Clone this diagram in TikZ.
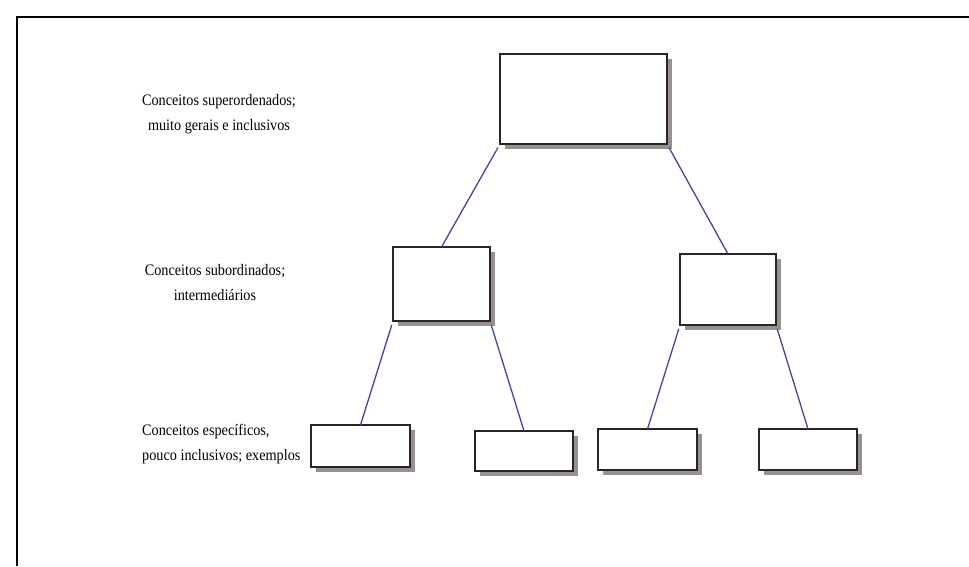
\documentclass[tikz,border=0pt]{standalone}
\usepackage{fontspec}
\newfontfamily\legfont[FakeStretch=0.89]{Liberation Serif}
\usepackage{xcolor}
\definecolor{sombra}{HTML}{9A9090}
\definecolor{ligacao}{HTML}{4444A0}
\usetikzlibrary{shadows}

\begin{document}
\begin{tikzpicture}[x=1pt,y=-1pt,
  caixa/.style={rectangle,draw=black!85,line width=1.4pt,fill=white,inner sep=0pt,outer sep=0pt,
    general shadow={fill=sombra,shadow xshift=5pt,shadow yshift=-5pt}},
  lig/.style={draw=ligacao,line width=1.3pt,shorten <=4pt},
  leg/.style={font={\legfont\fontsize{16}{25}\selectfont},inner sep=0pt}]
\useasboundingbox (0,0) rectangle (969,566);
\draw[line width=2pt] (17,566) -- (17,17) -- (969,17);
% niveis
\node[leg,align=center] (L1) at (219,114) {Conceitos superordenados;\\muito gerais e inclusivos};
\node[leg,align=center] (L2) at (215,283) {Conceitos subordinados;\\intermediários};
\node[leg,align=left,anchor=west] (L3) at (142,444) {Conceitos específicos,\\pouco inclusivos; exemplos};
% caixas
\node[caixa,minimum width=167pt,minimum height=90pt] (T) at (583.5,99) {};
\node[caixa,minimum width=97pt,minimum height=74pt] (ML) at (441.5,284) {};
\node[caixa,minimum width=96pt,minimum height=71pt] (MR) at (728,289.5) {};
\node[caixa,minimum width=99pt,minimum height=42pt] (B1) at (360.5,446) {};
\node[caixa,minimum width=98pt,minimum height=40pt] (B2) at (524,451) {};
\node[caixa,minimum width=99pt,minimum height=41pt] (B3) at (647.5,449.5) {};
\node[caixa,minimum width=98pt,minimum height=41pt] (B4) at (808,449.5) {};
% ligacoes
\draw[lig] (T.south west) -- (ML.north);
\draw[lig] (T.south east) -- (MR.north);
\draw[lig] (ML.south west) -- (B1.north);
\draw[lig] (ML.south east) -- (B2.north);
\draw[lig] (MR.south west) -- (B3.north);
\draw[lig] (MR.south east) -- (B4.north);
\end{tikzpicture}
\end{document}
